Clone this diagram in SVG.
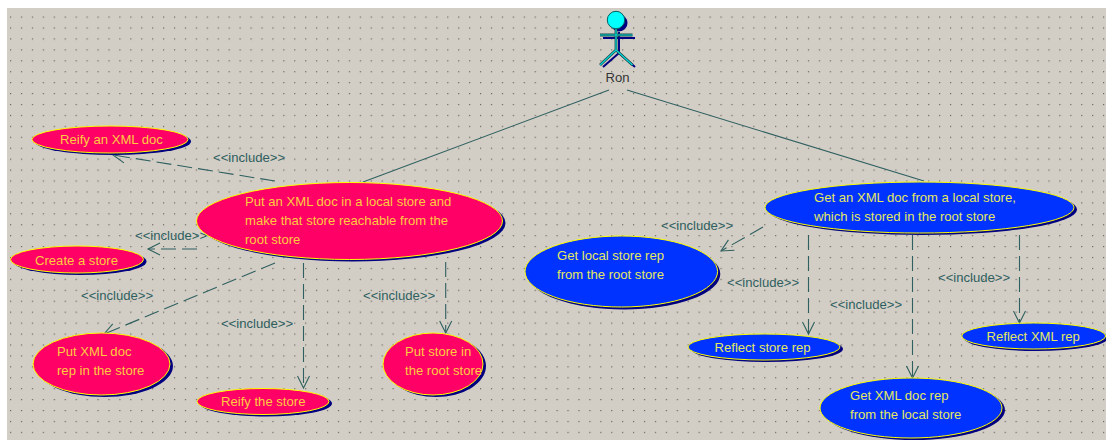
<svg xmlns="http://www.w3.org/2000/svg" width="1106" height="441" viewBox="0 0 1106 441">
<style>
text{font-family:"Liberation Sans",Arial,sans-serif;font-size:13.100px}
.r ellipse.f{fill:#ff0066}
.b ellipse.f{fill:#0033ff}
ellipse.s{fill:#000080}
ellipse.f{stroke:#ffff00;stroke-width:1}
.r text{fill:#ffcc40}
.b text{fill:#e4e860}
.c{fill:none;stroke:#2f5f5f;stroke-width:1.100}
.d{stroke-dasharray:15 6}
.l{fill:#2f5f5f}
</style>
<defs>
<pattern id="dots" x="10" y="16.500" width="10.930" height="10.930" patternUnits="userSpaceOnUse"><rect width="1.200" height="1.200" fill="#6a665f"/></pattern>
<marker id="open" markerWidth="16" markerHeight="16" refX="14" refY="8" orient="auto" markerUnits="userSpaceOnUse"><path d="M2 2L14 8L2 14" fill="none" stroke="#2f5f5f" stroke-width="1.100"/></marker>
</defs>
<rect width="1106" height="441" fill="#ffffff"/>
<rect x="7" y="8" width="1099" height="432" fill="#d2cec6"/>
<rect x="7" y="8" width="1099" height="432" fill="url(#dots)"/>
<g id="connectors">
<path class="c" d="M609 90L363 182"/>
<path class="c" d="M627 90L924 181"/>
<path class="c d" d="M275 181L113 155" marker-end="url(#open)"/>
<path class="c d" d="M197 249L148 249" marker-end="url(#open)"/>
<path class="c d" d="M275 263L104 334" marker-end="url(#open)"/>
<path class="c d" d="M303.500 263L303.500 388" marker-end="url(#open)"/>
<path class="c d" d="M445.700 262L445.700 333" marker-end="url(#open)"/>
<path class="c d" d="M763 227L721 251" marker-end="url(#open)"/>
<path class="c d" d="M808.500 235L808.500 334" marker-end="url(#open)"/>
<path class="c d" d="M912.500 235L912.500 378" marker-end="url(#open)"/>
<path class="c d" d="M1019.500 235L1019.500 323" marker-end="url(#open)"/>
<g class="l">
<text x="213" y="162">&lt;&lt;include&gt;&gt;</text>
<text x="135" y="240">&lt;&lt;include&gt;&gt;</text>
<text x="81" y="300">&lt;&lt;include&gt;&gt;</text>
<text x="221" y="328">&lt;&lt;include&gt;&gt;</text>
<text x="363" y="300">&lt;&lt;include&gt;&gt;</text>
<text x="661" y="230">&lt;&lt;include&gt;&gt;</text>
<text x="727" y="287">&lt;&lt;include&gt;&gt;</text>
<text x="830" y="309">&lt;&lt;include&gt;&gt;</text>
<text x="938" y="282">&lt;&lt;include&gt;&gt;</text>
</g>
</g>
<g id="actor-ron">
<g fill="none" stroke="#000080" stroke-width="2">
<circle cx="619" cy="23" r="8.500" fill="#000080" stroke="none"/>
<path d="M603 38H635M619 32V53M619 53L603 67M619 53L635 67"/>
</g>
<path d="M600 35H632.500M616 28V50M616 50L600 65M616 50L632.500 65" fill="none" stroke="#204848" stroke-width="2.800"/>
<path d="M600 35H632.500M616 28V50M616 50L600 65M616 50L632.500 65" fill="none" stroke="#00d8d8" stroke-width="1.200"/>
<circle cx="616" cy="20" r="8.700" fill="#00ffff" stroke="#006060" stroke-width="1"/>
<text x="617.500" y="82" text-anchor="middle" fill="#333">Ron</text>
</g>
<g id="reify-xml-doc" class="r">
<ellipse class="s" cx="113" cy="141.500" rx="78" ry="13.500"/><ellipse class="f" cx="110" cy="139.500" rx="78" ry="13.500"/>
<text x="60" y="144">Reify an XML doc</text>
</g>
<g id="create-store" class="r">
<ellipse class="s" cx="80" cy="261.500" rx="66.500" ry="13.500"/><ellipse class="f" cx="77" cy="259.500" rx="66.500" ry="13.500"/>
<text x="35" y="265">Create a store</text>
</g>
<g id="put-xml-doc" class="r">
<ellipse class="s" cx="352.500" cy="223" rx="153" ry="38.500"/><ellipse class="f" cx="349.500" cy="221" rx="153" ry="38.500"/>
<text x="245" y="206">Put an XML doc in a local store and</text>
<text x="245" y="225">make that store reachable from the</text>
<text x="245" y="244">root store</text>
</g>
<g id="put-xml-rep" class="r">
<ellipse class="s" cx="104.500" cy="366" rx="68.500" ry="31"/><ellipse class="f" cx="101.500" cy="364" rx="68.500" ry="31"/>
<text x="57" y="356">Put XML doc</text>
<text x="57" y="375">rep in the store</text>
</g>
<g id="reify-store" class="r">
<ellipse class="s" cx="266" cy="403.500" rx="66" ry="13"/><ellipse class="f" cx="263" cy="401.500" rx="66" ry="13"/>
<text x="221" y="406">Reify the store</text>
</g>
<g id="put-store-root" class="r">
<ellipse class="s" cx="436" cy="366" rx="50" ry="31"/><ellipse class="f" cx="433" cy="364" rx="50" ry="31"/>
<text x="405" y="356">Put store in</text>
<text x="405" y="375">the root store</text>
</g>
<g id="get-xml-doc" class="b">
<ellipse class="s" cx="922.500" cy="209.500" rx="154.500" ry="25.500"/><ellipse class="f" cx="919.500" cy="207.500" rx="154.500" ry="25.500"/>
<text x="814" y="202">Get an XML doc from a local store,</text>
<text x="814" y="220.500">which is stored in the root store</text>
</g>
<g id="get-local-rep" class="b">
<ellipse class="s" cx="624" cy="274" rx="96.300" ry="35.500"/><ellipse class="f" cx="621.300" cy="271.500" rx="96.300" ry="35.500"/>
<text x="557" y="260">Get local store rep</text>
<text x="557" y="279">from the root store</text>
</g>
<g id="reflect-store-rep" class="b">
<ellipse class="s" cx="767" cy="349" rx="76" ry="13"/><ellipse class="f" cx="764" cy="347" rx="76" ry="13"/>
<text x="714.500" y="352">Reflect store rep</text>
</g>
<g id="get-xml-rep" class="b">
<ellipse class="s" cx="914" cy="410" rx="91" ry="30"/><ellipse class="f" cx="911" cy="408" rx="91" ry="30"/>
<text x="850" y="400">Get XML doc rep</text>
<text x="850" y="419">from the local store</text>
</g>
<g id="reflect-xml-rep" class="b">
<ellipse class="s" cx="1036" cy="338" rx="72" ry="13"/><ellipse class="f" cx="1033.700" cy="336" rx="72" ry="13"/>
<text x="986.500" y="341">Reflect XML rep</text>
</g>
</svg>
